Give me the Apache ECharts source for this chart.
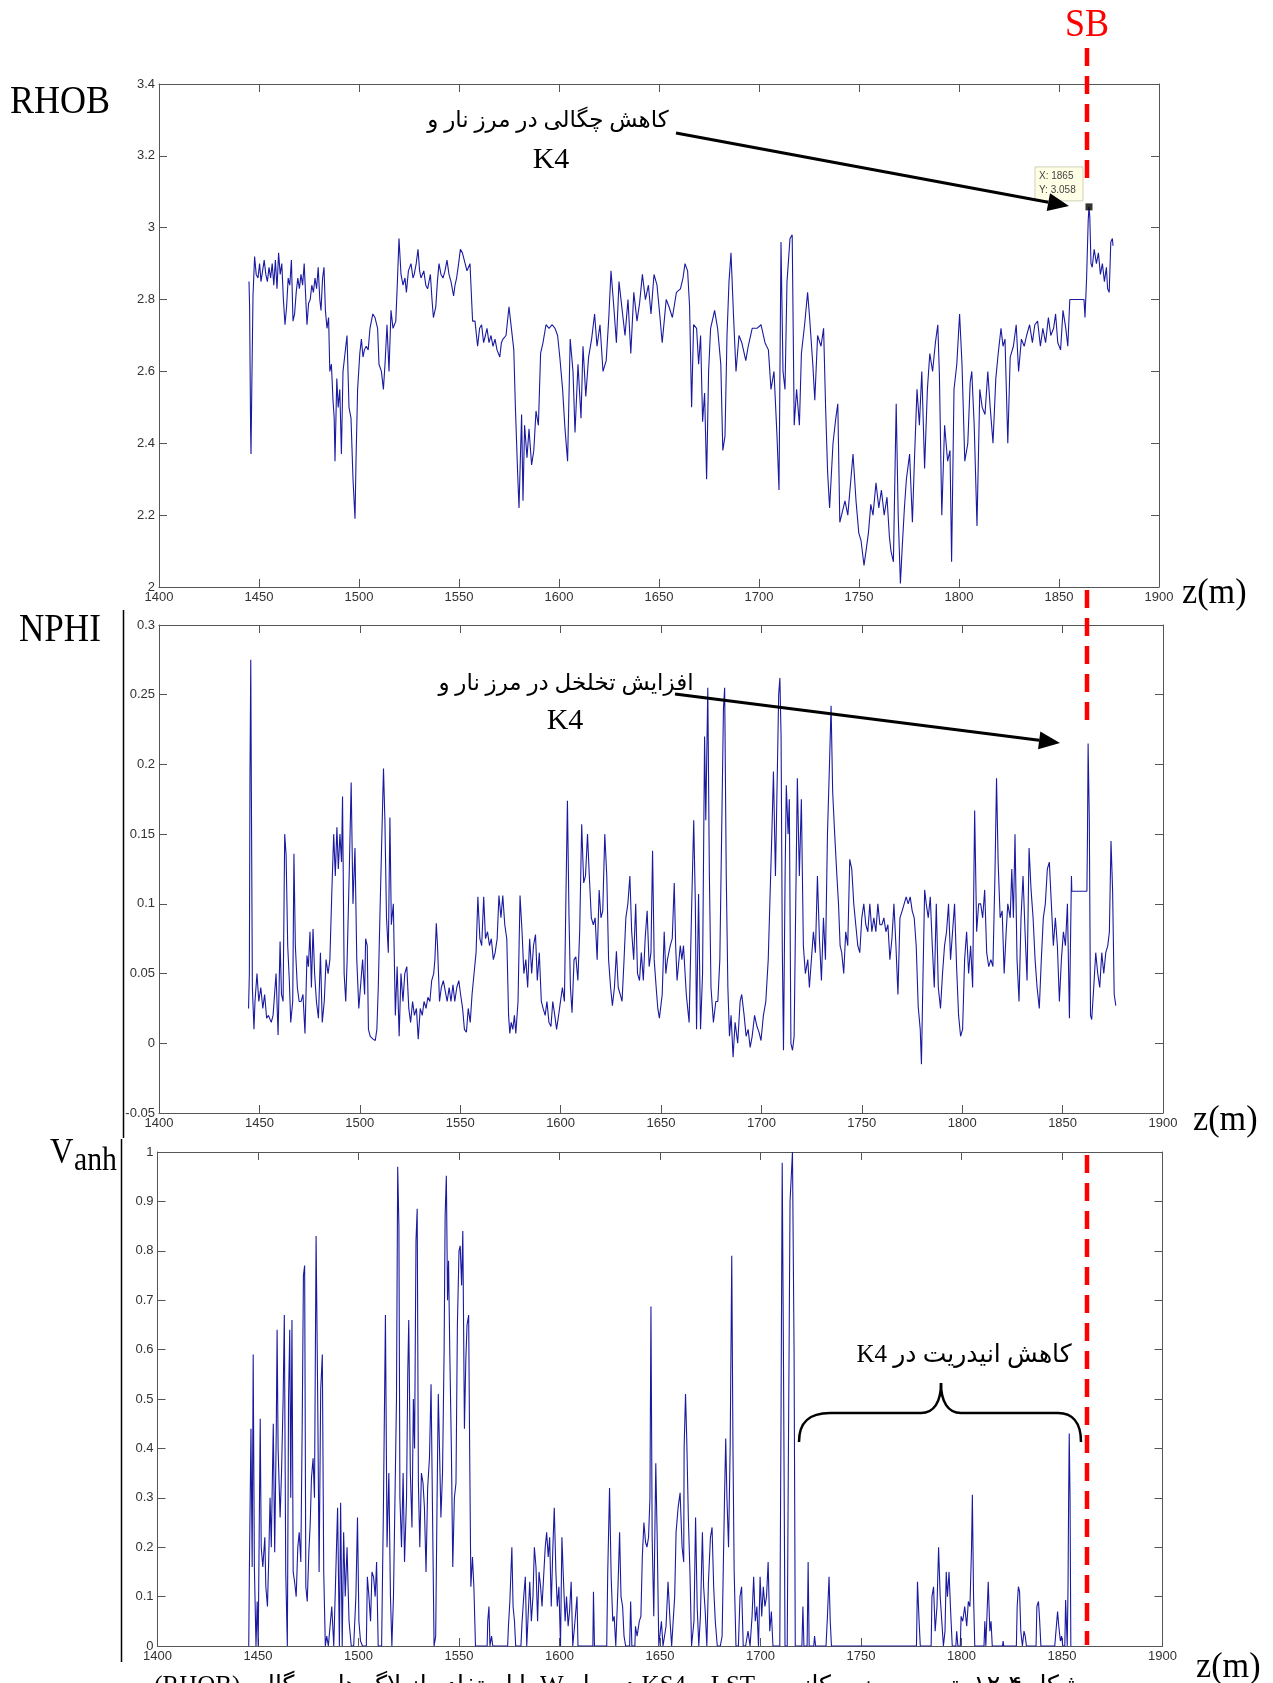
<!DOCTYPE html>
<html>
<head>
<meta charset="utf-8">
<script src="https://cdn.jsdelivr.net/npm/echarts@6/dist/echarts.min.js"></script>
<style>
  html, body { margin: 0; padding: 0; background: #fff; }
  #chart { width: 1273px; height: 1683px; }
</style>
</head>
<body>
<div id="chart"></div>
<script>
// depth axis shared by the three logs: [min, max, step]
const depthRange = [1400, 1900, 50];
const rhobRange = [2, 3.4, 0.2];
const nphiRange = [-0.05, 0.3, 0.05];
const vanhRange = [0, 1, 0.1];

// sequence boundary depth and the data tip shown on the density log
const sbDepth = 1864;
const dataTip = [1865, 3.058];

// bulk density (RHOB), [depth m, g/cc]
const rhobLog = [
  [1445.0,2.85],[1445.3,2.78],[1445.8,2.44],[1446.0,2.37],[1446.5,2.6],[1447.0,2.81],[1447.8,2.92],[1448.6,2.87],
  [1449.5,2.86],[1450.3,2.9],[1451.0,2.85],[1451.8,2.88],[1452.6,2.91],[1453.4,2.87],[1454.2,2.85],[1455.0,2.89],
  [1455.8,2.86],[1456.6,2.9],[1457.4,2.84],[1458.2,2.91],[1459.0,2.83],[1459.8,2.93],[1460.6,2.87],[1461.4,2.9],
  [1462.2,2.8],[1463.0,2.73],[1463.8,2.78],[1464.6,2.86],[1465.4,2.84],[1466.2,2.91],[1467.0,2.74],[1467.8,2.76],
  [1468.6,2.82],[1469.4,2.86],[1470.2,2.83],[1471.0,2.87],[1471.8,2.84],[1472.6,2.9],[1473.4,2.8],[1474.0,2.73],
  [1474.8,2.79],[1475.6,2.8],[1476.4,2.84],[1477.2,2.82],[1478.0,2.86],[1478.8,2.83],[1479.6,2.89],[1480.4,2.8],
  [1481.0,2.77],[1481.8,2.86],[1482.5,2.89],[1483.2,2.77],[1484.0,2.72],[1484.8,2.75],[1485.4,2.6],[1486.2,2.62],
  [1487.0,2.52],[1487.6,2.47],[1488.0,2.35],[1488.9,2.58],[1489.6,2.5],[1490.4,2.55],[1491.2,2.37],[1492.0,2.6],
  [1493.0,2.65],[1494.0,2.7],[1495.0,2.5],[1496.0,2.47],[1497.0,2.3],[1498.0,2.19],[1498.5,2.35],[1499.3,2.55],
  [1500.4,2.65],[1501.2,2.69],[1502.0,2.64],[1502.7,2.66],[1503.6,2.67],[1504.6,2.66],[1505.5,2.72],[1506.9,2.76],
  [1508.0,2.75],[1509.3,2.72],[1510.0,2.62],[1511.2,2.6],[1512.2,2.55],[1513.0,2.62],[1514.0,2.73],[1515.0,2.6],
  [1516.0,2.77],[1517.0,2.72],[1518.4,2.74],[1519.2,2.85],[1520.0,2.97],[1521.0,2.87],[1522.0,2.84],[1523.0,2.86],
  [1523.7,2.82],[1524.7,2.88],[1526.0,2.9],[1527.0,2.86],[1527.6,2.87],[1528.6,2.9],[1529.5,2.94],[1530.3,2.88],
  [1531.0,2.86],[1532.4,2.88],[1533.4,2.84],[1534.3,2.83],[1535.7,2.87],[1536.5,2.8],[1537.2,2.75],[1538.4,2.78],
  [1539.2,2.85],[1540.0,2.9],[1541.0,2.87],[1542.0,2.86],[1543.0,2.88],[1544.0,2.91],[1545.0,2.87],[1546.0,2.85],
  [1547.3,2.81],[1548.0,2.84],[1548.8,2.86],[1549.8,2.9],[1550.7,2.94],[1551.7,2.93],[1552.7,2.93],[1554.0,2.88],
  [1555.5,2.9],[1556.3,2.8],[1556.8,2.74],[1558.0,2.74],[1559.3,2.67],[1560.3,2.72],[1561.3,2.73],[1562.3,2.68],
  [1563.2,2.7],[1564.0,2.72],[1565.0,2.68],[1566.0,2.7],[1567.0,2.67],[1568.0,2.69],[1569.0,2.66],[1570.4,2.64],
  [1571.2,2.68],[1572.0,2.69],[1573.5,2.7],[1575.0,2.78],[1576.2,2.72],[1577.4,2.66],[1578.2,2.5],[1579.3,2.32],
  [1580.0,2.22],[1581.3,2.48],[1582.0,2.24],[1582.8,2.45],[1584.0,2.36],[1585.0,2.44],[1586.3,2.34],[1587.4,2.38],
  [1588.5,2.49],[1589.7,2.45],[1590.8,2.65],[1592.0,2.68],[1593.5,2.73],[1595.0,2.72],[1596.6,2.73],[1598.0,2.72],
  [1599.3,2.7],[1600.4,2.64],[1601.8,2.55],[1603.0,2.44],[1604.3,2.35],[1605.6,2.69],[1607.0,2.6],[1608.0,2.43],
  [1609.5,2.62],[1611.0,2.47],[1612.0,2.67],[1613.4,2.53],[1614.8,2.64],[1616.3,2.69],[1617.8,2.76],[1619.0,2.67],
  [1620.5,2.73],[1622.0,2.6],[1623.6,2.63],[1624.9,2.75],[1626.0,2.88],[1627.4,2.78],[1628.7,2.68],[1630.0,2.85],
  [1631.6,2.77],[1633.0,2.7],[1634.5,2.8],[1635.9,2.65],[1637.4,2.82],[1639.0,2.74],[1640.3,2.79],[1641.7,2.87],
  [1643.2,2.8],[1644.7,2.84],[1646.0,2.76],[1647.5,2.87],[1649.0,2.84],[1650.5,2.75],[1651.6,2.68],[1652.6,2.74],
  [1653.6,2.8],[1655.0,2.78],[1656.7,2.75],[1658.7,2.82],[1660.7,2.83],[1662.0,2.86],[1663.0,2.9],[1664.3,2.88],
  [1665.3,2.78],[1666.3,2.5],[1667.3,2.73],[1668.8,2.72],[1669.8,2.62],[1670.8,2.7],[1671.8,2.46],[1672.8,2.54],
  [1673.8,2.3],[1674.8,2.6],[1675.8,2.72],[1677.8,2.77],[1679.3,2.72],[1680.9,2.62],[1681.9,2.38],[1683.0,2.42],
  [1684.0,2.7],[1685.0,2.85],[1686.0,2.93],[1687.3,2.75],[1688.5,2.6],[1690.0,2.7],[1691.4,2.68],[1693.4,2.63],
  [1694.6,2.67],[1696.6,2.72],[1699.0,2.72],[1701.0,2.73],[1703.0,2.68],[1704.7,2.66],[1706.0,2.55],[1707.5,2.6],
  [1709.0,2.42],[1710.0,2.27],[1711.0,2.96],[1712.0,2.6],[1713.0,2.55],[1714.0,2.85],[1715.5,2.97],[1716.6,2.98],
  [1717.6,2.45],[1718.8,2.55],[1720.2,2.45],[1721.2,2.65],[1722.8,2.73],[1724.3,2.82],[1725.3,2.75],[1726.9,2.62],
  [1727.9,2.52],[1729.3,2.7],[1731.0,2.67],[1732.3,2.72],[1733.3,2.5],[1734.3,2.32],[1735.3,2.22],[1737.0,2.4],
  [1738.4,2.47],[1739.4,2.51],[1740.4,2.18],[1741.4,2.18],[1743.0,2.24],[1744.4,2.2],[1745.8,2.29],[1747.0,2.37],
  [1748.5,2.24],[1749.9,2.15],[1751.0,2.13],[1752.5,2.06],[1753.5,2.1],[1754.7,2.15],[1755.9,2.23],[1757.0,2.2],
  [1758.5,2.29],[1759.9,2.22],[1761.2,2.27],[1762.6,2.2],[1764.0,2.25],[1765.2,2.14],[1766.0,2.1],[1767.2,2.07],
  [1768.6,2.51],[1769.6,2.2],[1770.7,2.01],[1771.7,2.12],[1772.7,2.22],[1773.7,2.3],[1775.3,2.37],[1776.7,2.18],
  [1777.7,2.35],[1779.0,2.55],[1780.2,2.45],[1781.4,2.6],[1782.8,2.33],[1784.2,2.55],[1785.4,2.65],[1786.8,2.6],
  [1788.2,2.68],[1789.4,2.73],[1790.2,2.59],[1791.4,2.2],[1792.8,2.45],[1794.3,2.35],[1795.5,2.38],[1796.3,2.07],
  [1797.5,2.55],[1798.9,2.62],[1800.3,2.76],[1801.5,2.62],[1802.9,2.35],[1804.4,2.4],[1805.6,2.57],[1806.4,2.6],
  [1807.6,2.45],[1809.0,2.17],[1810.4,2.55],[1811.6,2.5],[1813.0,2.48],[1814.4,2.6],[1815.6,2.5],[1817.0,2.4],
  [1818.4,2.58],[1819.6,2.65],[1821.0,2.72],[1822.0,2.67],[1823.0,2.69],[1824.4,2.4],[1825.6,2.64],[1827.2,2.67],
  [1828.6,2.73],[1829.8,2.6],[1831.2,2.69],[1832.6,2.67],[1833.8,2.7],[1835.3,2.73],[1836.7,2.68],[1837.9,2.73],
  [1839.3,2.74],[1840.7,2.67],[1841.9,2.72],[1843.3,2.68],[1844.7,2.75],[1845.9,2.7],[1847.3,2.72],[1848.3,2.76],
  [1849.4,2.68],[1850.8,2.66],[1852.0,2.77],[1853.4,2.72],[1854.4,2.67],[1855.4,2.8],[1862.5,2.8],[1863.0,2.75],
  [1863.8,2.86],[1864.6,3.02],[1865.0,3.058],[1865.4,3.03],[1866.0,2.9],[1866.6,2.89],[1867.6,2.94],[1868.7,2.9],
  [1869.7,2.93],[1870.7,2.87],[1871.7,2.9],[1872.7,2.85],[1873.7,2.89],[1874.3,2.83],[1875.1,2.82],[1875.9,2.96],
  [1876.7,2.97],[1877.0,2.95]
];

// neutron porosity (NPHI), [depth m, v/v]
const nphiLog = [
  [1444.6,0.025],[1445.0,0.05],[1445.3,0.19],[1445.7,0.275],[1446.0,0.18],[1446.5,0.04],[1447.3,0.01],[1447.8,0.03],
  [1448.8,0.05],[1449.7,0.03],[1450.7,0.04],[1451.7,0.025],[1452.6,0.035],[1453.6,0.018],[1454.5,0.02],[1455.9,0.015],
  [1456.8,0.02],[1457.8,0.04],[1458.3,0.05],[1459.3,0.006],[1460.3,0.073],[1461.0,0.035],[1461.8,0.03],[1462.6,0.15],
  [1463.3,0.135],[1464.1,0.07],[1464.9,0.045],[1465.6,0.015],[1466.6,0.03],[1467.2,0.136],[1467.9,0.07],[1468.9,0.04],
  [1469.8,0.03],[1470.8,0.03],[1471.7,0.035],[1472.7,0.007],[1473.7,0.063],[1474.4,0.055],[1475.2,0.08],[1475.9,0.04],
  [1476.7,0.082],[1477.5,0.05],[1478.4,0.03],[1479.4,0.018],[1480.4,0.065],[1481.3,0.015],[1482.3,0.03],[1483.2,0.06],
  [1484.2,0.05],[1485.1,0.06],[1486.1,0.11],[1487.0,0.15],[1487.8,0.12],[1488.6,0.155],[1489.3,0.125],[1490.1,0.15],
  [1490.9,0.13],[1491.4,0.177],[1492.2,0.05],[1493.0,0.03],[1493.7,0.06],[1494.7,0.12],[1495.7,0.187],[1496.6,0.1],
  [1497.6,0.14],[1498.5,0.06],[1499.5,0.025],[1500.4,0.025],[1501.4,0.06],[1502.4,0.035],[1502.9,0.075],[1503.7,0.07],
  [1504.3,0.01],[1505.2,0.005],[1506.6,0.003],[1507.7,0.002],[1508.5,0.01],[1509.2,0.04],[1510.0,0.09],[1511.0,0.15],
  [1511.8,0.197],[1512.5,0.16],[1513.3,0.09],[1514.2,0.065],[1515.0,0.162],[1515.7,0.085],[1516.7,0.1],[1517.7,0.02],
  [1518.6,0.055],[1519.6,0.005],[1520.5,0.05],[1521.5,0.03],[1522.4,0.05],[1523.4,0.055],[1524.4,0.025],[1525.3,0.015],
  [1526.3,0.03],[1527.2,0.02],[1528.2,0.025],[1529.1,0.003],[1530.1,0.025],[1531.1,0.02],[1532.0,0.03],[1533.0,0.025],
  [1533.9,0.033],[1534.9,0.03],[1535.8,0.045],[1536.8,0.05],[1537.4,0.06],[1538.1,0.086],[1538.7,0.07],[1539.7,0.03],
  [1540.6,0.04],[1541.6,0.045],[1542.5,0.045],[1543.5,0.03],[1544.5,0.04],[1545.4,0.03],[1546.4,0.042],[1547.3,0.03],
  [1548.3,0.04],[1549.3,0.045],[1550.2,0.035],[1551.2,0.025],[1552.1,0.01],[1553.1,0.008],[1554.0,0.025],[1555.0,0.015],
  [1555.9,0.035],[1556.9,0.05],[1557.9,0.065],[1558.8,0.105],[1559.8,0.075],[1560.7,0.07],[1561.7,0.105],[1562.6,0.075],
  [1563.6,0.08],[1564.6,0.07],[1565.5,0.075],[1566.5,0.06],[1567.4,0.065],[1568.4,0.075],[1569.3,0.106],[1570.3,0.09],
  [1571.2,0.106],[1572.2,0.085],[1573.2,0.075],[1574.1,0.02],[1574.7,0.007],[1575.4,0.015],[1576.2,0.01],[1577.0,0.02],
  [1577.7,0.007],[1578.8,0.03],[1579.8,0.106],[1580.8,0.08],[1581.7,0.05],[1582.7,0.06],[1583.6,0.04],[1584.6,0.075],
  [1585.6,0.05],[1586.5,0.07],[1587.5,0.078],[1588.4,0.045],[1589.4,0.065],[1590.4,0.03],[1591.3,0.025],[1592.3,0.02],
  [1593.2,0.03],[1594.2,0.015],[1595.2,0.012],[1596.1,0.03],[1597.1,0.02],[1598.0,0.01],[1599.0,0.02],[1599.9,0.02],
  [1600.9,0.04],[1601.9,0.03],[1602.6,0.1],[1603.4,0.174],[1604.2,0.09],[1604.9,0.04],[1605.7,0.022],[1606.7,0.06],
  [1607.6,0.062],[1608.6,0.045],[1609.5,0.08],[1610.5,0.157],[1611.5,0.115],[1612.4,0.12],[1613.4,0.15],[1614.3,0.12],
  [1615.3,0.09],[1616.3,0.085],[1617.2,0.09],[1618.2,0.06],[1619.2,0.11],[1620.1,0.09],[1621.0,0.095],[1622.0,0.15],
  [1623.0,0.12],[1623.9,0.06],[1624.9,0.04],[1625.8,0.027],[1626.8,0.04],[1627.8,0.066],[1628.7,0.04],[1629.7,0.035],
  [1630.6,0.03],[1631.6,0.06],[1632.5,0.09],[1633.5,0.1],[1634.5,0.12],[1635.4,0.08],[1636.4,0.06],[1637.4,0.1],
  [1638.3,0.05],[1639.3,0.045],[1640.2,0.065],[1641.2,0.045],[1642.1,0.075],[1643.1,0.095],[1644.1,0.055],[1645.0,0.065],
  [1645.8,0.138],[1646.6,0.06],[1647.6,0.04],[1648.4,0.025],[1649.2,0.018],[1650.6,0.035],[1651.6,0.08],[1652.4,0.05],
  [1653.2,0.06],[1654.6,0.07],[1655.6,0.075],[1656.6,0.115],[1657.3,0.07],[1658.0,0.045],[1659.6,0.07],[1660.4,0.06],
  [1661.2,0.07],[1662.6,0.035],[1664.0,0.015],[1665.3,0.1],[1666.3,0.16],[1667.1,0.1],[1667.7,0.01],[1668.7,0.107],
  [1669.7,0.01],[1670.7,0.05],[1671.7,0.22],[1672.3,0.16],[1673.3,0.255],[1674.1,0.12],[1674.9,0.04],[1676.1,0.015],
  [1677.3,0.03],[1678.3,0.03],[1679.3,0.06],[1680.3,0.16],[1681.1,0.24],[1681.7,0.255],[1682.5,0.12],[1683.3,0.04],
  [1684.1,0.005],[1684.9,0.02],[1685.9,-0.01],[1686.9,0.015],[1688.2,0.0],[1689.4,0.03],[1690.2,0.035],[1691.4,0.02],
  [1692.4,0.005],[1693.4,0.01],[1694.4,-0.003],[1695.4,0.005],[1696.6,0.02],[1697.8,0.012],[1698.8,0.008],[1699.8,0.002],
  [1701.0,0.02],[1702.2,0.03],[1703.4,0.06],[1704.2,0.1],[1705.2,0.15],[1706.0,0.195],[1707.0,0.12],[1708.0,0.2],
  [1708.6,0.25],[1709.2,0.262],[1709.8,0.22],[1710.4,0.07],[1711.0,-0.005],[1711.8,0.12],[1712.4,0.185],[1713.3,0.15],
  [1713.9,0.175],[1714.7,0.0],[1715.5,-0.005],[1716.3,0.005],[1717.1,0.1],[1717.9,0.19],[1718.9,0.12],[1719.9,0.175],
  [1720.9,0.07],[1721.9,0.05],[1723.1,0.06],[1723.9,0.04],[1724.9,0.06],[1725.9,0.08],[1726.9,0.065],[1727.9,0.12],
  [1728.9,0.075],[1729.9,0.045],[1730.9,0.09],[1731.9,0.06],[1732.9,0.15],[1733.9,0.2],[1734.7,0.242],[1735.5,0.18],
  [1736.5,0.15],[1737.6,0.12],[1738.4,0.1],[1739.2,0.07],[1740.0,0.065],[1741.0,0.05],[1742.0,0.08],[1743.0,0.07],
  [1744.0,0.132],[1745.0,0.125],[1746.0,0.1],[1747.0,0.085],[1748.0,0.07],[1749.0,0.065],[1750.0,0.09],[1751.0,0.1],
  [1752.0,0.085],[1753.0,0.08],[1754.0,0.1],[1755.0,0.08],[1756.0,0.09],[1757.0,0.08],[1758.0,0.1],[1759.0,0.085],
  [1760.0,0.085],[1761.0,0.09],[1762.0,0.08],[1763.0,0.085],[1764.0,0.06],[1765.0,0.075],[1766.0,0.1],[1767.0,0.07],
  [1768.0,0.035],[1769.0,0.09],[1770.1,0.095],[1771.1,0.1],[1772.1,0.105],[1773.1,0.1],[1774.1,0.105],[1775.1,0.095],
  [1776.1,0.09],[1777.1,0.07],[1778.1,0.026],[1779.1,0.01],[1779.7,-0.015],[1780.5,0.05],[1781.3,0.11],[1782.1,0.1],
  [1783.1,0.09],[1784.1,0.105],[1785.1,0.07],[1786.1,0.04],[1787.1,0.1],[1788.1,0.04],[1789.2,0.025],[1790.2,0.05],
  [1791.2,0.07],[1792.2,0.08],[1793.2,0.1],[1794.2,0.06],[1795.2,0.08],[1796.2,0.1],[1797.2,0.055],[1798.2,0.02],
  [1799.2,0.005],[1800.2,0.01],[1801.2,0.06],[1802.2,0.08],[1803.2,0.05],[1804.2,0.07],[1805.2,0.04],[1806.2,0.167],
  [1807.2,0.08],[1808.2,0.1],[1809.2,0.1],[1810.2,0.09],[1811.2,0.11],[1812.2,0.065],[1813.2,0.055],[1814.3,0.06],
  [1815.3,0.055],[1816.3,0.12],[1817.1,0.19],[1817.9,0.13],[1818.9,0.09],[1819.9,0.095],[1820.9,0.05],[1821.9,0.08],
  [1822.7,0.1],[1823.9,0.09],[1824.7,0.125],[1825.5,0.09],[1826.3,0.15],[1827.3,0.06],[1828.3,0.03],[1829.3,0.09],
  [1830.3,0.12],[1831.3,0.08],[1832.3,0.045],[1833.3,0.14],[1834.3,0.11],[1835.3,0.09],[1836.3,0.06],[1837.3,0.04],
  [1838.4,0.025],[1839.4,0.06],[1840.4,0.09],[1841.4,0.1],[1842.4,0.125],[1843.4,0.13],[1844.4,0.1],[1845.4,0.07],
  [1846.4,0.09],[1847.4,0.07],[1848.4,0.03],[1849.4,0.06],[1850.4,0.08],[1851.4,0.07],[1852.4,0.1],[1853.4,0.018],
  [1854.4,0.12],[1854.6,0.109],[1862.1,0.109],[1862.4,0.15],[1862.7,0.215],[1863.3,0.16],[1863.9,0.02],[1864.5,0.017],
  [1865.5,0.04],[1866.5,0.065],[1867.5,0.05],[1868.5,0.04],[1869.5,0.065],[1870.5,0.05],[1871.5,0.065],[1872.5,0.07],
  [1873.3,0.08],[1874.1,0.145],[1874.9,0.11],[1875.7,0.035],[1876.5,0.027]
];

// anhydrite volume (Vanh), [depth m, fraction]
const vanhLog = [
  [1445.4,0],[1445.7,0.15],[1446.5,0.44],[1447.1,0.16],[1447.6,0.59],[1448.2,0.16],[1449.0,0],[1449.6,0.09],
  [1450.1,0],[1451.1,0.46],[1451.6,0.2],[1452.4,0.16],[1453.4,0.22],[1453.9,0.12],[1454.7,0.08],[1455.3,0.17],
  [1456.0,0.3],[1456.6,0.2],[1457.6,0.45],[1458.3,0.19],[1459.1,0.44],[1459.5,0.64],[1460.0,0.4],[1461.0,0.26],
  [1461.7,0.35],[1462.5,0.5],[1463.1,0.67],[1463.8,0.15],[1464.6,0],[1465.2,0.5],[1465.8,0.64],[1466.3,0.3],
  [1466.9,0.66],[1467.5,0.15],[1468.2,0.13],[1469.0,0.1],[1469.8,0.2],[1470.5,0.23],[1471.3,0.17],[1472.0,0.45],
  [1472.6,0.75],[1473.2,0.77],[1473.8,0.12],[1474.5,0.09],[1475.3,0.19],[1476.0,0.25],[1476.6,0.34],[1477.4,0.38],
  [1478.1,0.3],[1478.9,0.83],[1479.7,0.5],[1480.4,0.15],[1481.2,0.52],[1482.0,0.59],[1482.7,0.15],[1483.5,0],
  [1484.2,0.02],[1485.0,0],[1486.7,0.08],[1487.7,0],[1488.6,0],[1489.6,0.28],[1490.5,0],[1491.1,0.29],
  [1491.9,0],[1492.6,0.23],[1493.4,0.1],[1494.3,0.2],[1495.3,0.05],[1496.4,0],[1497.6,0],[1498.7,0.1],
  [1499.5,0.26],[1500.2,0.05],[1501.0,0.01],[1502.0,0],[1503.9,0],[1504.4,0.14],[1505.2,0.1],[1506.0,0.05],
  [1506.7,0.15],[1507.5,0.14],[1508.3,0.1],[1509.0,0.17],[1509.8,0],[1511.5,0],[1512.4,0.28],[1513.4,0.67],
  [1514.2,0.2],[1515.1,0.35],[1515.9,0.1],[1516.6,0],[1517.4,0.1],[1518.2,0.1],[1518.9,0.5],[1519.5,0.97],
  [1520.1,0.85],[1520.6,0.3],[1521.4,0.2],[1522.2,0.35],[1522.9,0.17],[1523.9,0.3],[1524.5,0.55],[1525.0,0.66],
  [1525.8,0.35],[1526.6,0.24],[1527.3,0.5],[1527.9,0.4],[1528.6,0.82],[1529.2,0.885],[1529.8,0.33],[1530.5,0.2],
  [1531.3,0.35],[1532.1,0.33],[1532.8,0.28],[1533.6,0.15],[1534.4,0.32],[1535.3,0.38],[1536.1,0.53],[1536.8,0.28],
  [1537.6,0],[1538.4,0.02],[1539.1,0.3],[1539.7,0.51],[1540.3,0.4],[1541.0,0.26],[1541.8,0.35],[1542.6,0.6],
  [1543.1,0.87],[1543.7,0.952],[1544.3,0.7],[1544.8,0.78],[1545.4,0.6],[1546.2,0.4],[1546.9,0.16],[1547.7,0.3],
  [1548.5,0.33],[1549.2,0.65],[1550.0,0.8],[1550.6,0.81],[1551.3,0.73],[1551.9,0.84],[1552.7,0.44],[1553.4,0.58],
  [1554.0,0.65],[1554.8,0.67],[1555.3,0.4],[1555.9,0.12],[1556.7,0.18],[1557.4,0.12],[1558.2,0],[1564.0,0],
  [1564.3,0.05],[1564.9,0.08],[1565.4,0],[1566.2,0.02],[1566.8,0],[1574.2,0],[1574.6,0.04],[1575.3,0.09],
  [1576.3,0.2],[1576.9,0.08],[1577.6,0.05],[1578.2,0],[1580.8,0],[1581.4,0.05],[1582.2,0.1],[1583.0,0.14],
  [1583.7,0],[1584.5,0.07],[1585.2,0.13],[1586.0,0.05],[1586.8,0.1],[1587.5,0.2],[1588.3,0.16],[1589.1,0.05],
  [1589.8,0.15],[1590.6,0.12],[1591.3,0.08],[1592.1,0.14],[1592.9,0.2],[1593.6,0.23],[1594.4,0.18],[1595.1,0.22],
  [1595.9,0.08],[1596.7,0.2],[1597.4,0.28],[1598.2,0.15],[1598.9,0.08],[1599.7,0.12],[1600.5,0],[1601.2,0.22],
  [1602.0,0.13],[1602.8,0.05],[1603.5,0.1],[1604.3,0.04],[1605.0,0.07],[1605.8,0.13],[1606.6,0],[1607.7,0.05],
  [1608.7,0.1],[1609.2,0],[1616.6,0],[1616.9,0.11],[1617.4,0],[1623.5,0],[1624.0,0.15],[1624.9,0.32],
  [1625.7,0.14],[1626.5,0.05],[1627.2,0.06],[1628.0,0],[1628.6,0],[1629.1,0.12],[1629.9,0.23],[1630.6,0.1],
  [1631.4,0.08],[1632.1,0.02],[1632.9,0],[1634.9,0],[1635.4,0.09],[1636.0,0],[1637.5,0],[1637.8,0.04],
  [1638.6,0.02],[1639.7,0.05],[1640.5,0.06],[1641.2,0.18],[1642.0,0.25],[1642.8,0.21],[1643.5,0.2],[1644.3,0.22],
  [1645.0,0.3],[1645.5,0.687],[1646.1,0.22],[1646.9,0.06],[1647.9,0.37],[1648.6,0.22],[1649.4,0],[1650.2,0],
  [1650.7,0.05],[1651.5,0],[1652.4,0],[1653.0,0.04],[1654.0,0.13],[1655.0,0.05],[1655.8,0],[1657.3,0.1],
  [1658.0,0.23],[1659.0,0.28],[1660.0,0.31],[1661.0,0.2],[1661.8,0.17],[1662.0,0.4],[1662.7,0.51],[1663.3,0.42],
  [1664.1,0.26],[1664.9,0.15],[1665.7,0],[1666.9,0.05],[1667.7,0.26],[1668.5,0.08],[1669.3,0],[1670.1,0.06],
  [1671.1,0.23],[1671.7,0.12],[1672.5,0.07],[1673.3,0],[1674.1,0.13],[1675.1,0.22],[1675.9,0.24],[1676.7,0.12],
  [1677.5,0.05],[1678.5,0],[1680.0,0],[1680.9,0.02],[1682.1,0.3],[1682.7,0.42],[1683.3,0.3],[1684.1,0.2],
  [1684.9,0.4],[1685.7,0.79],[1686.3,0.4],[1686.9,0.15],[1687.8,0],[1689.0,0],[1689.8,0.1],[1690.6,0.12],
  [1691.4,0],[1692.6,0],[1693.8,0.03],[1694.8,0],[1695.8,0.06],[1696.6,0.14],[1697.4,0.05],[1698.2,0.08],
  [1699.0,0],[1699.8,0.14],[1700.6,0.06],[1701.4,0.12],[1702.2,0.08],[1703.0,0.1],[1703.8,0.17],[1704.6,0.03],
  [1705.4,0.07],[1706.2,0],[1709.6,0],[1710.2,0.45],[1710.8,0.978],[1711.4,0.6],[1712.2,0],[1713.3,0],
  [1713.9,0.4],[1714.7,0.9],[1715.3,0.95],[1715.9,1.0],[1716.3,1.0],[1716.7,0.6],[1717.3,0],[1720.6,0],
  [1721.1,0.08],[1721.6,0],[1723.2,0],[1723.7,0.17],[1724.2,0],[1726.5,0],[1726.9,0.02],[1727.4,0],
  [1732.6,0],[1733.3,0.06],[1734.1,0.14],[1734.7,0.05],[1735.3,0],[1777.6,0],[1778.1,0.13],[1778.9,0.05],
  [1779.5,0],[1784.9,0],[1785.3,0.1],[1786.1,0.12],[1786.9,0.03],[1787.8,0.08],[1788.6,0.2],[1789.4,0.1],
  [1790.2,0.05],[1791.0,0],[1791.8,0.03],[1792.4,0.15],[1793.0,0.1],[1793.8,0.15],[1794.6,0.07],[1795.4,0],
  [1797.2,0],[1797.6,0.03],[1798.2,0],[1799.4,0],[1799.8,0.06],[1800.6,0.05],[1801.6,0.08],[1802.6,0.04],
  [1803.4,0.09],[1804.2,0.08],[1805.0,0.2],[1805.4,0.306],[1806.0,0.1],[1806.6,0],[1811.2,0],[1811.6,0.05],
  [1812.1,0],[1812.9,0],[1813.3,0.13],[1814.1,0.03],[1814.7,0.05],[1815.3,0],[1820.4,0],[1820.7,0.01],
  [1821.0,0],[1827.3,0],[1827.7,0.08],[1828.3,0.12],[1828.9,0.11],[1829.5,0.03],[1830.3,0],[1831.1,0.03],
  [1831.7,0.02],[1832.3,0],[1837.1,0],[1837.5,0.08],[1838.3,0.09],[1838.9,0.05],[1839.5,0],[1846.4,0],
  [1846.8,0.02],[1847.8,0.07],[1848.4,0.04],[1849.2,0.01],[1849.8,0.02],[1850.4,0],[1851.4,0],[1851.8,0.093],
  [1852.6,0],[1853.0,0.12],[1853.3,0.3],[1853.6,0.43],[1854.0,0.3],[1854.4,0]
];

const tickFont = '"Liberation Sans Narrow", "Liberation Sans", Arial, sans-serif';
const serifFont = '"Liberation Serif", "Times New Roman", "DejaVu Sans", serif';
const axisGray = '#555';
const logBlue = '#1a1aa0';
const RLE = '\u202B', PDF = '\u202C';

function plainNumber(v) {
  return String(Math.round(v * 1000) / 1000);
}

function depthAxes(gridIndex) {
  const base = {
    type: 'value', gridIndex: gridIndex,
    min: depthRange[0], max: depthRange[1], interval: depthRange[2],
    axisLine: { onZero: false, lineStyle: { color: axisGray, width: 1 } },
    axisTick: { inside: true, length: 8, lineStyle: { color: axisGray } },
    splitLine: { show: false }
  };
  return [
    Object.assign({}, base, {
      position: 'bottom',
      axisLabel: { color: '#333', fontFamily: tickFont, fontSize: 13, margin: 4, showMinLabel: true, showMaxLabel: true, formatter: plainNumber }
    }),
    Object.assign({}, base, { position: 'top', axisLabel: { show: false } })
  ];
}

function valueAxes(gridIndex, range) {
  const base = {
    type: 'value', gridIndex: gridIndex,
    min: range[0], max: range[1], interval: range[2],
    axisLine: { onZero: false, lineStyle: { color: axisGray, width: 1 } },
    axisTick: { inside: true, length: 8, lineStyle: { color: axisGray } },
    splitLine: { show: false }
  };
  return [
    Object.assign({}, base, {
      position: 'left',
      axisLabel: { color: '#333', fontFamily: tickFont, fontSize: 13, margin: 4, showMinLabel: true, showMaxLabel: true, formatter: plainNumber }
    }),
    Object.assign({}, base, { position: 'right', axisLabel: { show: false } })
  ];
}

function logSeries(axisIndex, data) {
  return {
    type: 'line', xAxisIndex: axisIndex, yAxisIndex: axisIndex, data: data,
    symbol: 'none', showSymbol: false, clip: true,
    lineStyle: { color: logBlue, width: 1.1 }
  };
}

const chart = echarts.init(document.getElementById('chart'), null, { renderer: 'canvas', width: 1273, height: 1683 });

chart.setOption({
  animation: false,
  backgroundColor: '#fff',
  grid: [
    { left: 159, top: 84, width: 1000, height: 503 },
    { left: 159, top: 625, width: 1004, height: 488 },
    { left: 157.5, top: 1152, width: 1005, height: 494 }
  ],
  xAxis: [].concat(depthAxes(0), depthAxes(1), depthAxes(2)),
  yAxis: [].concat(valueAxes(0, rhobRange), valueAxes(1, nphiRange), valueAxes(2, vanhRange)),
  series: [
    logSeries(0, rhobLog),
    logSeries(2, nphiLog),
    logSeries(4, vanhLog),
    {
      type: 'scatter', xAxisIndex: 0, yAxisIndex: 0, data: [dataTip],
      symbol: 'rect', symbolSize: 7, itemStyle: { color: '#000' }, z: 5
    }
  ]
});

// positions taken from the axes
const sbX = chart.convertToPixel({ xAxisIndex: 0 }, sbDepth);
const tip = chart.convertToPixel({ seriesIndex: 3 }, dataTip);

function label(x, y, text, font, fill, align, scaleX) {
  return {
    type: 'text', x: x, y: y, scaleX: scaleX || 1, z: 100,
    style: {
      text: text, font: font, fill: fill || '#000',
      align: align || 'left', verticalAlign: 'middle',
      textAlign: align || 'left', textVerticalAlign: 'middle'
    }
  };
}

function redDash(y1, y2) {
  return {
    type: 'line', z: 90,
    shape: { x1: sbX, y1: y1, x2: sbX, y2: y2 },
    style: { stroke: '#ff0000', lineWidth: 4.5, lineDash: [18, 10] }
  };
}

function arrow(x1, y1, x2, y2) {
  const len = Math.hypot(x2 - x1, y2 - y1);
  const ux = (x2 - x1) / len, uy = (y2 - y1) / len;
  const bx = x2 - ux * 21, by = y2 - uy * 21;
  return [
    { type: 'line', z: 100, shape: { x1: x1, y1: y1, x2: bx, y2: by }, style: { stroke: '#000', lineWidth: 3 } },
    { type: 'polygon', z: 100, shape: { points: [[x2, y2], [bx - uy * 9, by + ux * 9], [bx + uy * 9, by - ux * 9]] }, style: { fill: '#000' } }
  ];
}

function curve(x1, y1, cx1, cy1, cx2, cy2, x2, y2) {
  return {
    type: 'bezierCurve', z: 100,
    shape: { x1: x1, y1: y1, cpx1: cx1, cpy1: cy1, cpx2: cx2, cpy2: cy2, x2: x2, y2: y2 },
    style: { stroke: '#000', lineWidth: 2.5, fill: null }
  };
}

function segment(x1, y1, x2, y2, width) {
  return { type: 'line', z: 100, shape: { x1: x1, y1: y1, x2: x2, y2: y2 }, style: { stroke: '#000', lineWidth: width } };
}

// curly brace over the K4 interval of the anhydrite log
const brace = [
  curve(799, 1442, 799, 1422, 809, 1413, 830, 1413),
  segment(830, 1413, 921, 1413, 2.5),
  curve(921, 1413, 934, 1413, 941, 1402, 941, 1383),
  curve(941, 1383, 941, 1402, 948, 1413, 961, 1413),
  segment(961, 1413, 1058, 1413, 2.5),
  curve(1058, 1413, 1072, 1413, 1081, 1422, 1081, 1442)
];

const graphics = [
  redDash(48, 178), redDash(590, 720), redDash(1155, 1645),
  label(sbX, 25, 'SB', '40px ' + serifFont, '#ff0000', 'center', 0.9),

  label(10, 102, 'RHOB', '40px ' + serifFont, '#000', 'left', 0.9),
  label(19, 631, 'NPHI', '39px ' + serifFont, '#000', 'left', 0.9),
  label(50, 1154, 'V', '36px ' + serifFont, '#000', 'left', 0.9),
  label(74, 1161, 'anh', '33px ' + serifFont, '#000', 'left', 0.9),

  label(1182, 594, 'z(m)', '36px ' + serifFont, '#000', 'left', 0.95),
  label(1193, 1121, 'z(m)', '36px ' + serifFont, '#000', 'left', 0.95),
  label(1196, 1668, 'z(m)', '36px ' + serifFont, '#000', 'left', 0.95),

  segment(123.5, 610, 123.5, 1138, 1.5),
  segment(121.5, 1139, 121.5, 1662, 1.5),

  label(548, 121, RLE + 'کاهش چگالی در مرز نار و' + PDF, '23px ' + serifFont, '#000', 'center'),
  label(551, 160, 'K4', '30px ' + serifFont, '#000', 'center'),
  label(566, 684, RLE + 'افزایش تخلخل در مرز نار و' + PDF, '23px ' + serifFont, '#000', 'center'),
  label(565, 721, 'K4', '30px ' + serifFont, '#000', 'center'),
  label(964, 1355, RLE + 'کاهش انیدریت در K4' + PDF, '25px ' + serifFont, '#000', 'center'),

  // data tip box next to the marker
  {
    type: 'rect', z: 95,
    shape: { x: tip[0] - 54, y: tip[1] - 40, width: 48, height: 34 },
    style: { fill: '#ffffe6', stroke: '#d0d0b8', lineWidth: 1 }
  },
  label(tip[0] - 50, tip[1] - 31, 'X: 1865', '10px ' + tickFont, '#444', 'left'),
  label(tip[0] - 50, tip[1] - 17, 'Y: 3.058', '10px ' + tickFont, '#444', 'left'),

  label(618, 1686, RLE + 'شکل ۴-۱۲- تعیین مرز سکانسی LST و KS4 در چاه W با استفاده از لاگ های چگالی (RHOB)' + PDF, '25px ' + serifFont, '#000', 'center')
].concat(brace, arrow(676, 133, 1069, 206), arrow(675, 694, 1060, 743));

chart.setOption({ graphic: { elements: graphics } });
</script>
</body>
</html>
